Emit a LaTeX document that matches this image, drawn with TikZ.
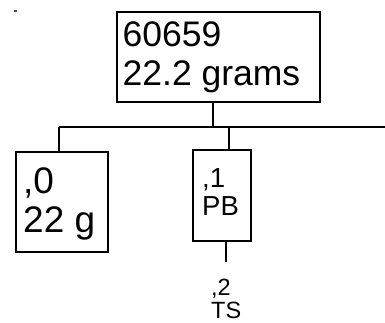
\documentclass[tikz,border=0pt]{standalone}
\usepackage{fontspec}
\setmainfont{Liberation Sans}
\begin{document}
\begin{tikzpicture}[x=1pt,y=-1pt,
  box/.style={draw,line width=1.6pt,inner sep=0pt},
  lbl/.style={anchor=base west,inner sep=0pt},
  wire/.style={line width=1.6pt},
  big/.style={font=\fontsize{35.5}{36}\selectfont},
  bigl/.style={font=\fontsize{37}{38}\selectfont},
  mid/.style={font=\fontsize{27.5}{28}\selectfont},
  small/.style={font=\fontsize{23.5}{24}\selectfont}]
\useasboundingbox (0,0) rectangle (385,322);
\fill[black!70] (14,10) rectangle (16.5,11.5);
% boxes
\node[box,minimum width=203pt,minimum height=90pt] (root) at (218.5,56.7) {};
\node[box,minimum width=92pt,minimum height=100pt] (left) at (62,202) {};
\node[box,minimum width=58pt,minimum height=91pt] (mid) at (222,195.5) {};
% texts
\node[lbl,big] (rootA) at (122.5,46.5) {60659};
\node[lbl,big] (rootB) at (122.5,85) {22.2 grams};
\node[lbl,bigl] (leftA) at (23,193) {,0};
\node[lbl,bigl] (leftB) at (23,232) {22 g};
\node[lbl,mid] (midA) at (202,187) {,1};
\node[lbl,mid] (midB) at (202,215) {PB};
\node[lbl,small] (leafA) at (211,295) {,2};
\node[lbl,small] (leafB) at (211,318.3) {TS};
% connectors
\coordinate (j) at (213,127);
\coordinate (jl) at (59,127);
\coordinate (jm) at (229,127);
\coordinate (jr) at (385,127);
\coordinate (leafend) at (226,262);
\draw[wire] (root.south -| j) -- (j);
\draw[wire] (jl) -- (jr);
\draw[wire] (jl) -- (jl |- left.north);
\draw[wire] (jm) -- (jm |- mid.north);
\draw[wire] (leafend |- mid.south) -- (leafend);
\end{tikzpicture}
\end{document}
